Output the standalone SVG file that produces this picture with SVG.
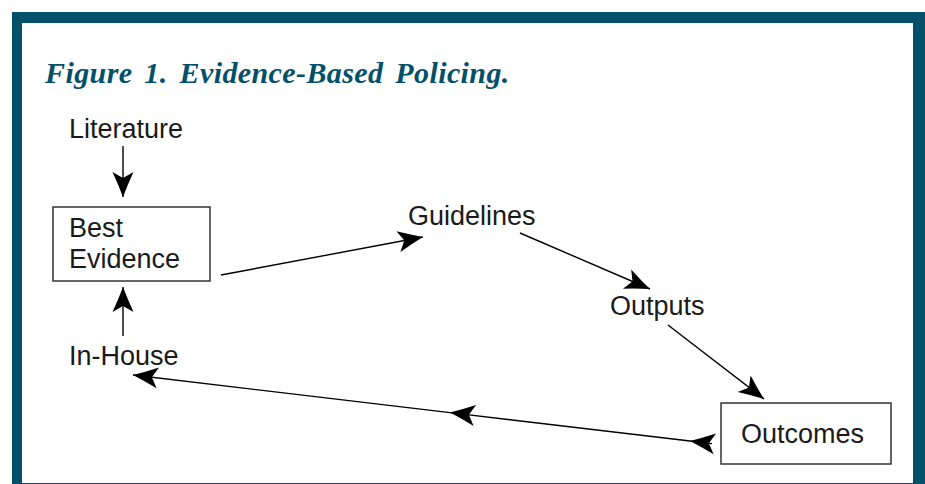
<svg xmlns="http://www.w3.org/2000/svg" width="925" height="484" viewBox="0 0 925 484">
<style>
.lbl{font-family:"Liberation Sans",Arial,sans-serif;font-size:27px;fill:#1a1a1a}
.title{font-family:"Liberation Serif","Times New Roman",serif;font-size:30px;font-weight:bold;font-style:italic;fill:#03506A;letter-spacing:0.4px;word-spacing:4px}
.box{fill:#fff;stroke:#333;stroke-width:1.5}
.conn{fill:none;stroke:#000;stroke-width:1.4}
</style>
<defs>
<marker id="arr" markerUnits="userSpaceOnUse" viewBox="-27 -12 28 24" refX="0" refY="0" markerWidth="28" markerHeight="24" orient="auto">
<path d="M0,0 Q-12,-4.5 -25,-10.5 L-19,0 L-25,10.5 Q-12,4.5 0,0 Z" fill="#000"/>
</marker>
</defs>
<rect x="0" y="0" width="925" height="484" fill="#fff"/>
<rect x="12" y="12" width="913" height="472" fill="#03506A"/>
<rect x="22" y="23" width="891" height="460" fill="#fff"/>
<text class="title" x="45" y="83">Figure 1. Evidence-Based Policing.</text>
<g id="connectors">
<line class="conn" x1="123" y1="146" x2="123" y2="197" marker-end="url(#arr)"/>
<line class="conn" x1="123" y1="336" x2="123" y2="287" marker-end="url(#arr)"/>
<line class="conn" x1="221" y1="275" x2="423" y2="237" marker-end="url(#arr)"/>
<line class="conn" x1="520" y1="233" x2="650" y2="289" marker-end="url(#arr)"/>
<line class="conn" x1="668" y1="325" x2="764" y2="399" marker-end="url(#arr)"/>
<polyline class="conn" points="712,443.6 690,441 450,412.6 133,375" marker-mid="url(#arr)" marker-end="url(#arr)"/>
</g>
<g id="literature"><text class="lbl" x="69" y="138">Literature</text></g>
<g id="best-evidence">
<rect class="box" x="53" y="207" width="157" height="74"/>
<text class="lbl" x="69" y="237">Best</text>
<text class="lbl" x="69" y="268">Evidence</text>
</g>
<g id="in-house"><text class="lbl" x="69" y="365">In-House</text></g>
<g id="guidelines"><text class="lbl" x="408" y="225">Guidelines</text></g>
<g id="outputs"><text class="lbl" x="610" y="315">Outputs</text></g>
<g id="outcomes">
<rect class="box" x="721" y="403" width="170" height="61"/>
<text class="lbl" x="741" y="443">Outcomes</text>
</g>
</svg>
